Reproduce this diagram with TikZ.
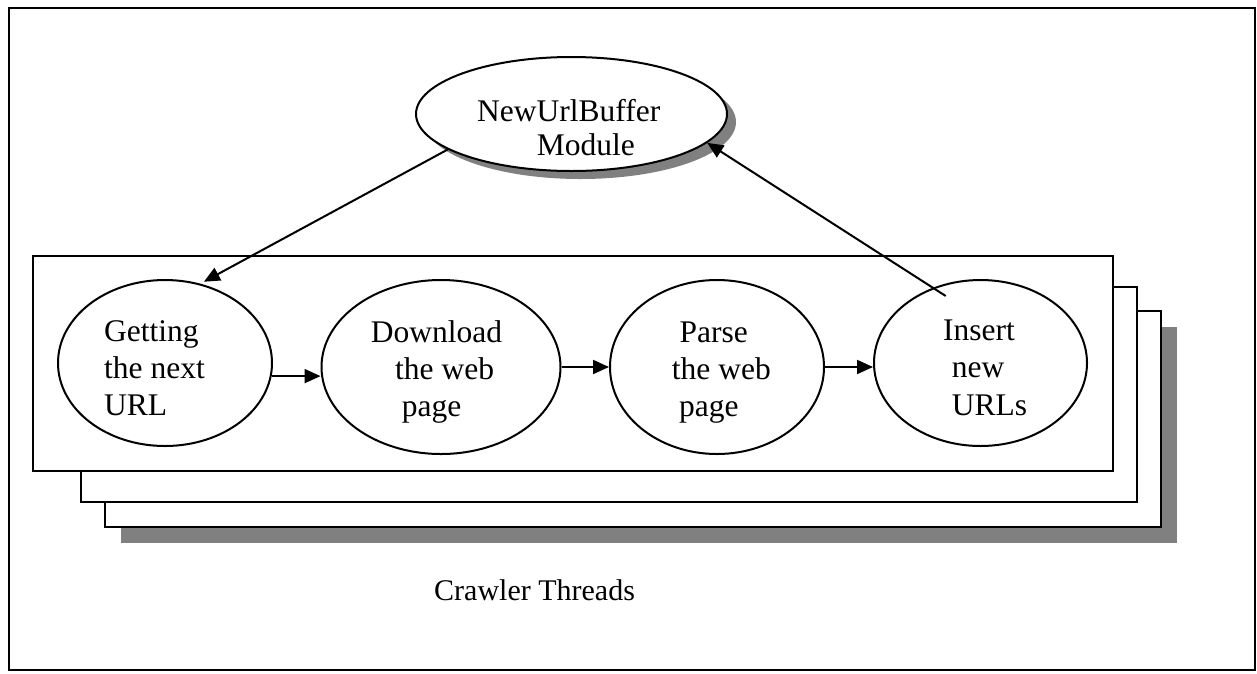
\documentclass[tikz,border=0pt]{standalone}
\usepackage{fontspec}
\setmainfont{Liberation Serif}
\usetikzlibrary{shapes.geometric,arrows.meta,shadows}
\definecolor{shadowgray}{RGB}{128,128,128}
\begin{document}
\begin{tikzpicture}[x=1pt,y=-1pt,
  proc/.style={ellipse,draw,line width=2pt,fill=white,inner sep=0pt},
  lbl/.style={anchor=base west,inner sep=0pt,font=\fontsize{31.5}{36}\selectfont},
  frame/.style={draw,line width=2pt,fill=white},
  arr/.style={line width=2pt,-{Triangle[length=16pt,width=14pt]}}]
\useasboundingbox (0,0) rectangle (1257,673);
% outer border
\draw[line width=2pt] (9,8) rectangle (1255,670);

% stack of thread frames, back to front
\fill[shadowgray] (121,327) rectangle (1177,543);
\draw[frame] (105,311) rectangle (1161,527);
\draw[frame] (81,287) rectangle (1137,502);
\draw[frame] (33,256) rectangle (1113,471);

% buffer module with its cast shadow
\node[proc,minimum width=311pt,minimum height=114pt,
      drop shadow={shadow xshift=9pt,shadow yshift=-8pt,fill=shadowgray,opacity=1}]
      (buf) at (571.5,114) {};
\node[lbl] (buf-1) at (477,121.7) {NewUrlBuffer};
\node[lbl] (buf-2) at (536.7,155) {Module};

% thread stages
\node[proc,minimum width=214pt,minimum height=166pt] (get) at (165,363) {};
\node[proc,minimum width=239pt,minimum height=174pt] (dl)  at (441,367) {};
\node[proc,minimum width=214pt,minimum height=174pt] (pa)  at (717,367) {};
\node[proc,minimum width=213pt,minimum height=166pt] (ins) at (980.5,363) {};

\node[lbl] (get-1) at (104,341.7) {Getting};
\node[lbl] (get-2) at (104,378) {the next};
\node[lbl] (get-3) at (104,415) {URL};

\node[lbl] (dl-1) at (370.7,342.7) {Download};
\node[lbl] (dl-2) at (395,379) {the web};
\node[lbl] (dl-3) at (401.7,416) {page};

\node[lbl] (pa-1) at (679.3,342.7) {Parse};
\node[lbl] (pa-2) at (671.7,379) {the web};
\node[lbl] (pa-3) at (679,416) {page};

\node[lbl] (ins-1) at (943,340) {Insert};
\node[lbl] (ins-2) at (951.7,377) {new};
\node[lbl] (ins-3) at (951.7,415) {URLs};

\node[lbl,font=\fontsize{30}{36}\selectfont] (caption) at (434,600) {Crawler Threads};

% connectors
\coordinate (ins-top) at (945.7,296);
\draw[arr,shorten >=4pt] (buf.196) -- (get.66);
\draw[arr] (ins-top) -- (buf.-12.3);
\draw[arr] (get.-7) -- (get.-7 -| dl.west);
\draw[arr] (dl.east) -- (pa.west);
\draw[arr] (pa.east) -- (pa.east -| ins.west);
\end{tikzpicture}
\end{document}
